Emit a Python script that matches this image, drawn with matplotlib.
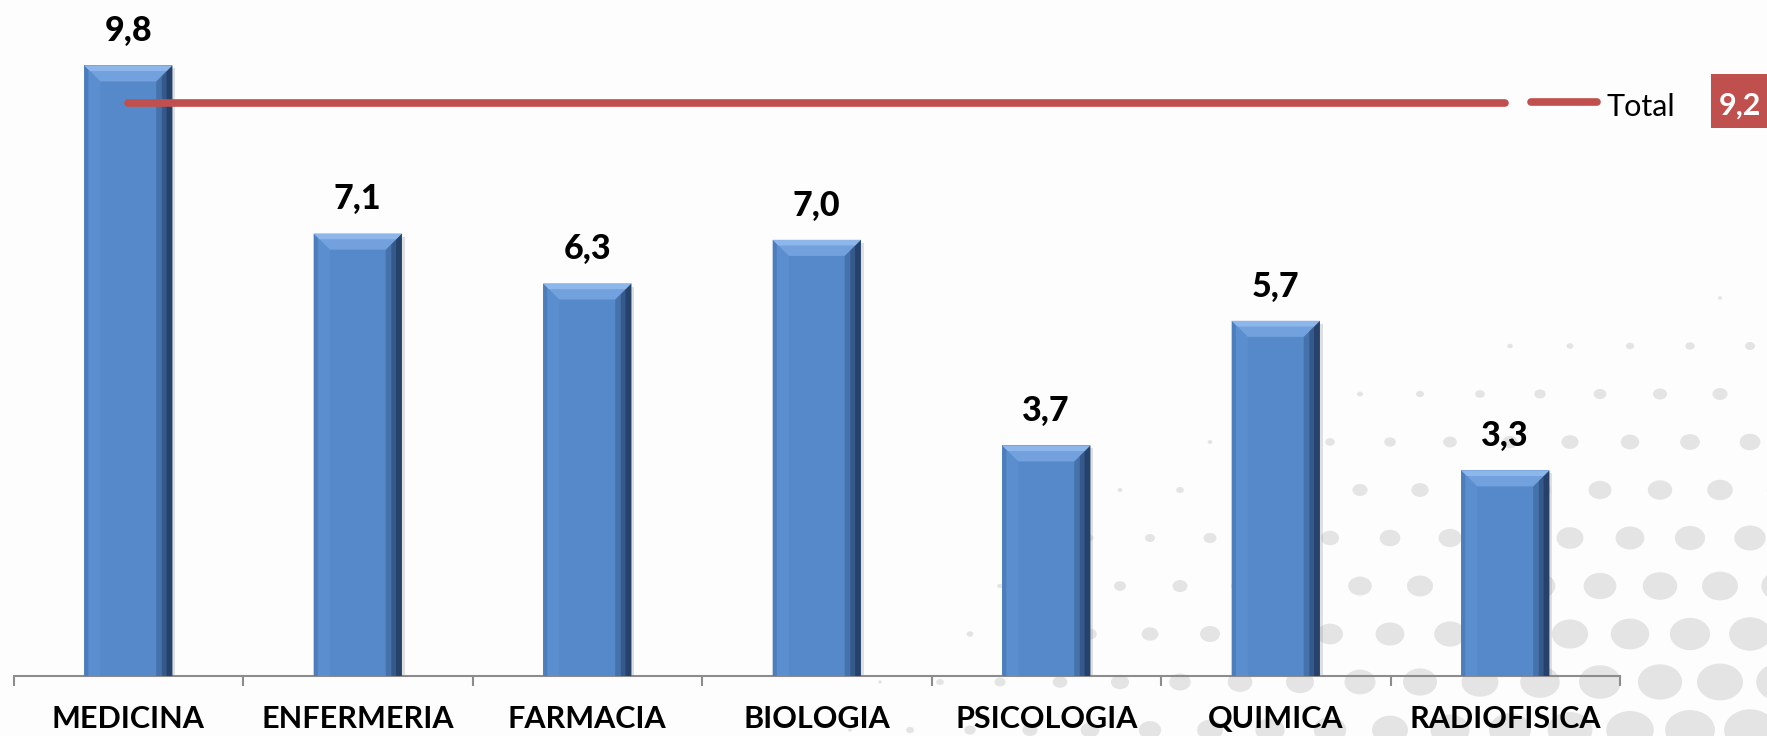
import matplotlib
matplotlib.use("Agg")
import matplotlib.pyplot as plt
from matplotlib.patches import Polygon, Rectangle, Ellipse
import numpy as np

# ---- data ----
categories = ["MEDICINA", "ENFERMERIA", "FARMACIA", "BIOLOGIA",
              "PSICOLOGIA", "QUIMICA", "RADIOFISICA"]
values = [9.8, 7.1, 6.3, 7.0, 3.7, 5.7, 3.3]
total_value = 9.2
total_name = "Total"

def fmt(v):
    return f"{v:.1f}".replace(".", ",")

W, H = 1767, 736
FONT = ["Lato", "DejaVu Sans"]
plt.rcParams["font.family"] = FONT

fig = plt.figure(figsize=(W / 100, H / 100), dpi=100)
fig.patch.set_facecolor("#FDFDFD")

# ---- decorative halftone dots (background) ----
cx, cy = 1950, 950
sx, sy = 60, 48
for j in range(-2, 22):
    yy = 250 + j * sy
    off = (j % 2) * sx / 2
    for i in range(-2, 22):
        xx = 850 + i * sx + off
        d = np.hypot(xx - cx, (yy - cy) * 1.75)
        s = 1 - d / 1230
        if s <= 0.05:
            continue
        w = 80 * s
        h = 64 * s
        e = Ellipse((xx / W, 1 - yy / H), w / W, h / H, transform=fig.transFigure,
                    facecolor="#E4E4E4", edgecolor="none", zorder=-5)
        fig.add_artist(e)

# ---- axes ----
y0_px = 676
px_per_unit = 62.3
ax = fig.add_axes([13.5 / W, (H - y0_px) / H, (1620 - 13.5) / W, y0_px / H])
ax.set_facecolor("none")
ax.set_xlim(-0.5, len(categories) - 0.5)
ax.set_ylim(0, y0_px / px_per_unit)

x = np.arange(len(categories))
bw = 0.383
bars = ax.bar(x, values, width=bw, color="#5589C9", edgecolor="none", zorder=3)

xpx = (1620 - 13.5) / len(categories)
bev = 16
dx = bev / xpx
dy = bev / px_per_unit
for b in bars:
    x0, yb = b.get_x(), b.get_y()
    x1, y1 = x0 + b.get_width(), yb + b.get_height()
    # soft shadow
    ax.add_patch(Rectangle((x0 + 3 / xpx, yb), b.get_width(), b.get_height() - 3 / px_per_unit,
                           facecolor="#777777", alpha=0.22, edgecolor="none", zorder=2))
    # left bevel
    ax.add_patch(Polygon([(x0, y1), (x0 + dx, y1 - dy), (x0 + dx, yb), (x0, yb)],
                         facecolor="#5A8ECF", edgecolor="none", zorder=4))
    ax.add_patch(Polygon([(x0, y1), (x0 + dx * 0.25, y1 - dy * 0.25), (x0 + dx * 0.25, yb), (x0, yb)],
                         facecolor="#4D7DBB", edgecolor="none", zorder=4))
    # right bevel (gradient strips)
    for frac, col in [(1.0, "#4672AC"), (0.65, "#35598B"), (0.35, "#26426A")]:
        ax.add_patch(Polygon([(x1, y1), (x1 - dx * frac, y1 - dy * frac),
                              (x1 - dx * frac, yb), (x1, yb)],
                             facecolor=col, edgecolor="none", zorder=4))
    # top bevel
    ax.add_patch(Polygon([(x0, y1), (x1, y1), (x1 - dx, y1 - dy), (x0 + dx, y1 - dy)],
                         facecolor="#72A1DD", edgecolor="none", zorder=5))
    ax.add_patch(Polygon([(x0, y1), (x1, y1), (x1 - dx * 0.35, y1 - dy * 0.35),
                          (x0 + dx * 0.35, y1 - dy * 0.35)],
                         facecolor="#8DB6EA", edgecolor="none", zorder=5))
    ax.annotate(fmt(b.get_height()), (b.get_x() + b.get_width() / 2, y1),
                xytext=(0, 17.5), textcoords="offset points", ha="center", va="baseline",
                fontsize=24.5, fontweight="black", color="black", zorder=6)

# total line
ax.plot([x[0], x[-1]], [total_value, total_value], color="#C0504D", lw=5.5,
        solid_capstyle="round", zorder=6)

# axis styling
for s in ["top", "right", "left"]:
    ax.spines[s].set_visible(False)
ax.spines["bottom"].set_color("#8C8C8C")
ax.spines["bottom"].set_linewidth(1.5)
ax.set_yticks([])
ax.set_xticks(x)
ax.set_xticklabels(categories, fontsize=22, fontweight="bold", color="black")
ax.tick_params(axis="x", which="major", length=0, pad=21)
ax.set_xticks(np.arange(-0.5, len(categories), 1.0), minor=True)
ax.tick_params(axis="x", which="minor", length=7, width=1.5, color="#8C8C8C", direction="out")

# legend (manual, placed in figure pixel space)
ly = 1 - 102 / H
fig.add_artist(plt.Line2D([1531 / W, 1597 / W], [ly, ly], color="#C0504D", lw=5.5,
                          solid_capstyle="round", transform=fig.transFigure))
fig.text(1606 / W, 1 - 116 / H, total_name, fontsize=22, color="black", va="baseline", ha="left")
fig.add_artist(Rectangle((1711 / W, 1 - 128 / H), 80 / W, 54 / H, transform=fig.transFigure,
                         facecolor="#C0504D", edgecolor="none"))
fig.text(1719 / W, 1 - 115 / H, fmt(total_value), fontsize=22, fontweight="bold",
         color="white", va="baseline", ha="left")

fig.savefig("out.png", dpi=100, facecolor=fig.get_facecolor())
